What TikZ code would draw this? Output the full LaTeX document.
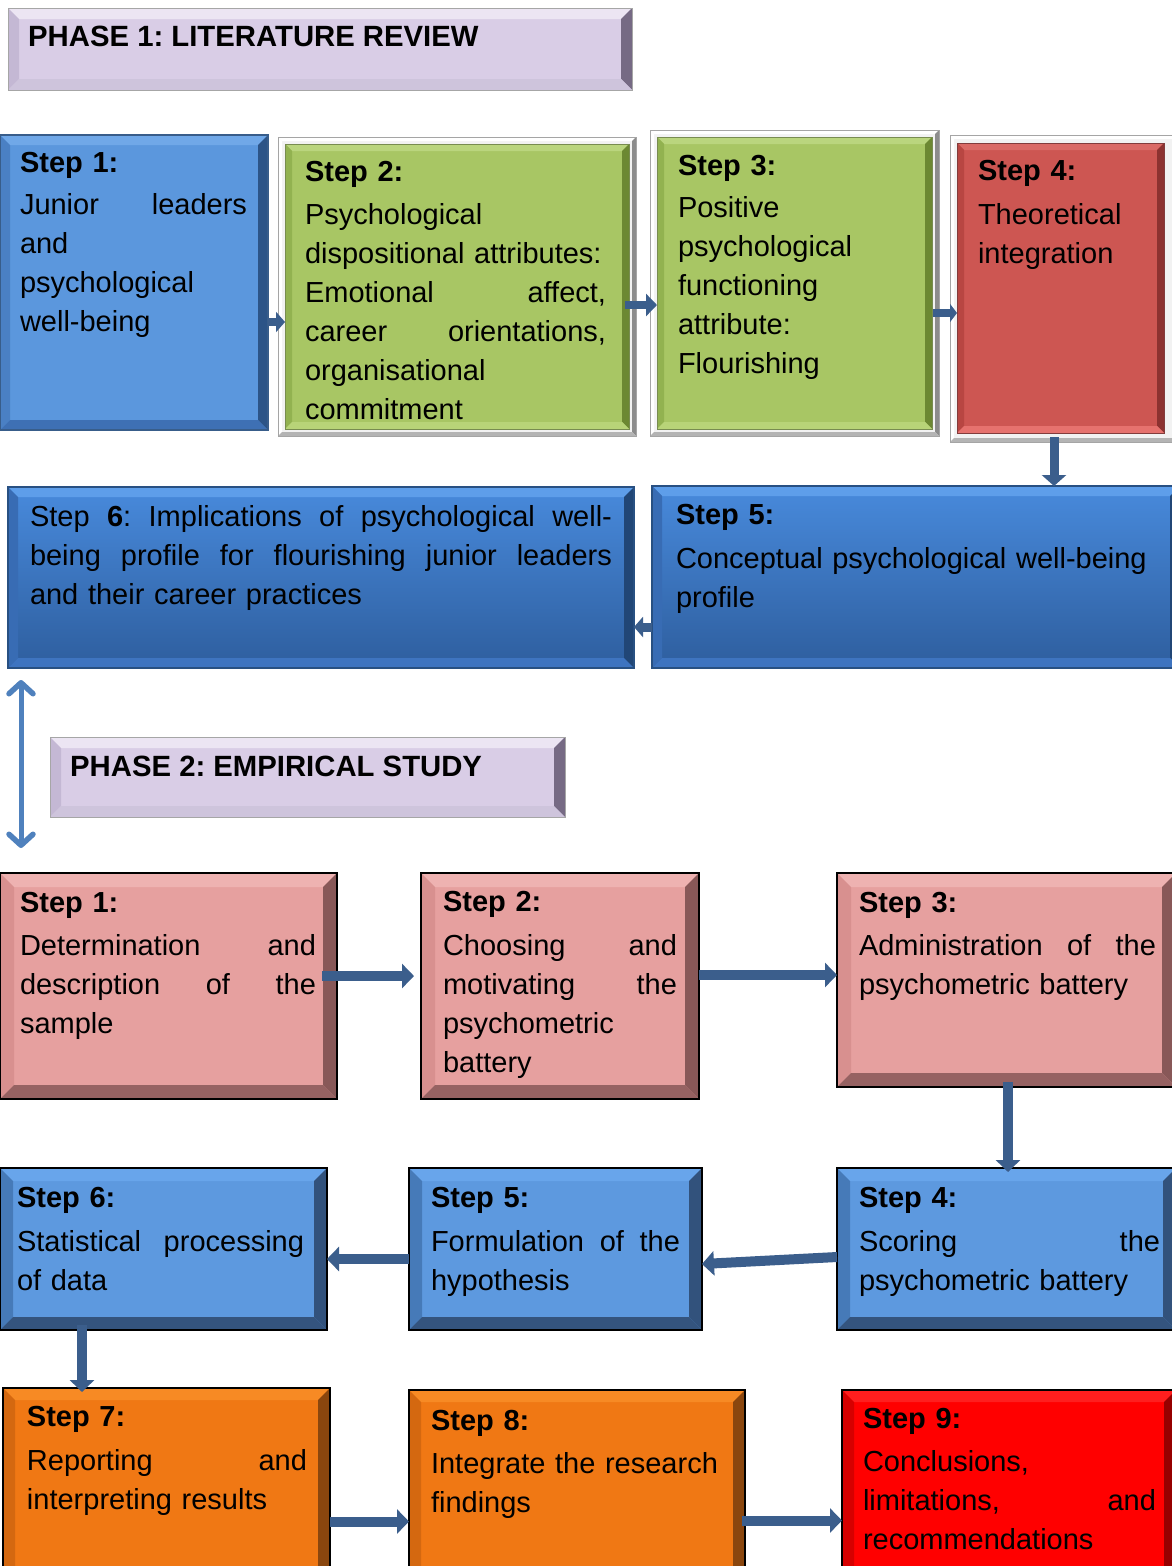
\documentclass[tikz,border=0pt]{standalone}
\usepackage{fontspec}
\setmainfont{Liberation Sans}
\usetikzlibrary{arrows.meta,calc}

% face / bevel colours
\definecolor{lavF}{RGB}{217,205,230}\definecolor{lavT}{RGB}{236,229,243}
\definecolor{lavL}{RGB}{196,184,212}\definecolor{lavR}{RGB}{118,106,132}
\definecolor{lavB}{RGB}{206,196,220}
\definecolor{buF}{RGB}{91,151,221}\definecolor{buT}{RGB}{112,168,232}
\definecolor{buL}{RGB}{74,128,196}\definecolor{buR}{RGB}{44,84,135}
\definecolor{buB}{RGB}{62,112,180}\definecolor{buO}{RGB}{56,93,138}
\definecolor{grF}{RGB}{168,198,100}\definecolor{grT}{RGB}{186,213,126}
\definecolor{grL}{RGB}{146,178,80}\definecolor{grR}{RGB}{108,136,50}
\definecolor{grB}{RGB}{184,212,120}\definecolor{grO}{RGB}{120,140,80}
\definecolor{svF}{RGB}{242,242,242}\definecolor{svR}{RGB}{140,140,140}
\definecolor{svB}{RGB}{180,180,180}\definecolor{svO}{RGB}{165,165,165}
\definecolor{rdF}{RGB}{205,86,82}\definecolor{rdT}{RGB}{218,106,102}
\definecolor{rdL}{RGB}{184,70,66}\definecolor{rdR}{RGB}{140,50,48}
\definecolor{rdB}{RGB}{230,114,110}\definecolor{rdO}{RGB}{130,60,60}
\definecolor{dbTop}{RGB}{72,138,220}\definecolor{dbBot}{RGB}{46,94,158}
\definecolor{dbT}{RGB}{94,158,234}\definecolor{dbL}{RGB}{56,108,180}
\definecolor{dbR}{RGB}{33,70,118}\definecolor{dbB}{RGB}{62,116,192}
\definecolor{dbO}{RGB}{40,80,130}
\definecolor{pkF}{RGB}{230,160,159}\definecolor{pkT}{RGB}{238,178,177}
\definecolor{pkL}{RGB}{216,144,143}\definecolor{pkR}{RGB}{136,88,88}
\definecolor{pkB}{RGB}{150,98,98}
\definecolor{lbF}{RGB}{93,153,223}\definecolor{lbT}{RGB}{104,165,235}
\definecolor{lbL}{RGB}{70,122,184}\definecolor{lbR}{RGB}{50,82,124}
\definecolor{lbB}{RGB}{52,84,126}
\definecolor{orF}{RGB}{240,120,20}\definecolor{orT}{RGB}{247,138,36}
\definecolor{orL}{RGB}{212,104,16}\definecolor{orR}{RGB}{138,70,14}
\definecolor{orB}{RGB}{136,68,16}
\definecolor{reF}{RGB}{255,0,0}\definecolor{reT}{RGB}{255,30,30}
\definecolor{reL}{RGB}{214,0,0}\definecolor{reR}{RGB}{150,0,0}
\definecolor{reB}{RGB}{140,10,10}
\definecolor{arrowc}{RGB}{59,94,140}
\definecolor{linkc}{RGB}{79,129,189}

\frenchspacing
\newcommand\bodyfont{\fontsize{29}{39}\selectfont}
\newcommand\hdfont{\fontsize{29.3}{35}\selectfont\bfseries}
% a line spread over the full text width of its node; \gap marks a stretchable space
\newcommand\tw{100pt}
\newcommand\jl[1]{\makebox[\tw][s]{#1}}
\newcommand\gap{\ \hfill}
% bevelled box: style, name, x1, y1, x2, y2 (y measured downwards)
\newcommand\bbox[6]{\node[#1,minimum width={#5pt-#3pt},minimum height={#6pt-#4pt}] (#2) at (#3,-#4) {};}

\tikzset{
  bv top/.store in=\bvT, bv left/.store in=\bvL, bv right/.store in=\bvR,
  bv bot/.store in=\bvB, bv w/.store in=\bvW,
  bevel/.style={rectangle, inner sep=0pt, outer sep=0pt, anchor=north west,
    path picture={
      \path (path picture bounding box.north west) coordinate (bNW)
            (path picture bounding box.north east) coordinate (bNE)
            (path picture bounding box.south west) coordinate (bSW)
            (path picture bounding box.south east) coordinate (bSE);
      \fill[fill=\bvT] (bNW) -- (bNE) -- ([shift={(-\bvW,-\bvW)}]bNE) -- ([shift={(\bvW,-\bvW)}]bNW) -- cycle;
      \fill[fill=\bvL] (bNW) -- ([shift={(\bvW,-\bvW)}]bNW) -- ([shift={(\bvW,\bvW)}]bSW) -- (bSW) -- cycle;
      \fill[fill=\bvR] (bNE) -- (bSE) -- ([shift={(-\bvW,\bvW)}]bSE) -- ([shift={(-\bvW,-\bvW)}]bNE) -- cycle;
      \fill[fill=\bvB] (bSW) -- ([shift={(\bvW,\bvW)}]bSW) -- ([shift={(-\bvW,\bvW)}]bSE) -- (bSE) -- cycle;
    }},
  phasebox/.style={bevel, fill=lavF, draw=gray!70, line width=1pt,
    bv top=lavT, bv left=lavL, bv right=lavR, bv bot=lavB, bv w=11},
  bluebox/.style={bevel, fill=buF, draw=buO, line width=1.2pt,
    bv top=buT, bv left=buL, bv right=buR, bv bot=buB, bv w=10},
  framebox/.style={bevel, fill=svF, draw=svO, line width=1pt,
    bv top=white, bv left=white, bv right=svR, bv bot=svB, bv w=4},
  greenbox/.style={bevel, fill=grF, draw=grO, line width=1pt,
    bv top=grT, bv left=grL, bv right=grR, bv bot=grB, bv w=7},
  redbox/.style={bevel, fill=rdF, draw=rdO, line width=1pt,
    bv top=rdT, bv left=rdL, bv right=rdR, bv bot=rdB, bv w=7},
  deepbox/.style={bevel, top color=dbTop, bottom color=dbBot, draw=dbO, line width=1.2pt,
    bv top=dbT, bv left=dbL, bv right=dbR, bv bot=dbB, bv w=10},
  pinkbox/.style={bevel, fill=pkF, draw=black, line width=2pt,
    bv top=pkT, bv left=pkL, bv right=pkR, bv bot=pkB, bv w=14},
  skybox/.style={bevel, fill=lbF, draw=black, line width=2pt,
    bv top=lbT, bv left=lbL, bv right=lbR, bv bot=lbB, bv w=13},
  orangebox/.style={bevel, fill=orF, draw=black, line width=2pt,
    bv top=orT, bv left=orL, bv right=orR, bv bot=orB, bv w=12},
  scarletbox/.style={bevel, fill=reF, draw=black, line width=2pt,
    bv top=reT, bv left=reL, bv right=reR, bv bot=reB, bv w=12},
  txt/.style={anchor=base west, inner sep=0pt, outer sep=0pt, align=left,
    text width=#1pt, font=\bodyfont\def\tw{#1pt}},
  hd/.style={anchor=base west, inner sep=0pt, font=\hdfont},
  fl/.style={draw=arrowc, line width=10pt, -{Triangle[width=24pt,length=12pt]}},
  flsmall/.style={draw=arrowc, line width=8pt, -{Triangle[width=20pt,length=9pt]}},
  twoway/.style={draw=linkc, line width=5pt,
    {Straight Barb[length=11pt,width=24pt,line width=5.5pt,round]}-{Straight Barb[length=11pt,width=24pt,line width=5.5pt,round]}}
}

\begin{document}
\begin{tikzpicture}[x=1pt,y=1pt]
\useasboundingbox (0,0) rectangle (1171,-1566);
\fill[white] (0,0) rectangle (1171,-1566);

% ---------- Phase 1 ----------
\bbox{phasebox}{ph1}{8}{8}{632}{90}
\node[hd] (ph1t) at (28,-46) {PHASE 1: LITERATURE REVIEW};

\bbox{bluebox}{p1s1}{0}{135}{268}{430}
\bbox{framebox}{p1s2f}{278}{137}{636}{436}
\bbox{greenbox}{p1s2}{285}{144}{629}{429}
\bbox{framebox}{p1s3f}{650}{130}{939}{436}
\bbox{greenbox}{p1s3}{657}{137}{932}{429}
\bbox{framebox}{p1s4f}{950}{135}{1178}{442}
\bbox{redbox}{p1s4}{957}{143}{1164}{433}
\bbox{deepbox}{p1s6}{8}{487}{634}{668}
\bbox{deepbox}{p1s5}{652}{486}{1180}{668}

\node[txt=227] (p1s1t) at (20,-172) {\textbf{Step 1:}\\[3pt]
  \jl{Junior\gap leaders}\\ and\\ psychological\\ well-being};
\node[txt=301] (p1s2t) at (305,-181) {\textbf{Step 2:}\\[4pt]
  Psychological\\ dispositional attributes:\\ \jl{Emotional\gap affect,}\\
  \jl{career\gap orientations,}\\ organisational\\ commitment};
\node[txt=240] (p1s3t) at (678,-175) {\textbf{Step 3:}\\[3pt]
  Positive\\ psychological\\ functioning\\ attribute:\\ Flourishing};
\node[txt=180] (p1s4t) at (978,-180) {\textbf{Step 4:}\\[5pt]
  Theoretical\\ integration};
\node[txt=582] (p1s6t) at (30,-526) {\jl{Step\gap \textbf{6}:\gap Implications\gap of\gap psychological\gap well-}\\
  \jl{being\gap profile\gap for\gap flourishing\gap junior\gap leaders}\\ and their career practices};
\node[txt=480] (p1s5t) at (676,-524) {\textbf{Step 5:}\\[5pt]
  Conceptual psychological well-being\\ profile};

% connectors, phase 1
\coordinate (c12) at ([yshift=-39.5pt]p1s1.east);
\draw[flsmall] (c12) -- (c12 -| p1s2.west);
\coordinate (c23) at ([xshift=-4pt,yshift=-18.5pt]p1s2.east);
\draw[flsmall,-{Triangle[width=22pt,length=11pt]}] (c23) -- (c23 -| p1s3.west);
\coordinate (c34) at ([xshift=1pt,yshift=-30pt]p1s3.east);
\draw[flsmall,-{Triangle[width=18pt,length=7pt]}] (c34) -- (c34 -| p1s4.west);
\coordinate (c45) at ([xshift=-6.5pt,yshift=-4pt]p1s4.south);
\draw[flsmall,line width=9pt,-{Triangle[width=24pt,length=11pt]}] (c45) -- (c45 |- p1s5.north);
\coordinate (c56) at ([yshift=-50pt]p1s5.west);
\draw[flsmall,line width=9pt,-{Triangle[width=20pt,length=9pt]}] (c56) -- (c56 -| p1s6.east);

% ---------- Phase 2 ----------
\bbox{phasebox}{ph2}{50}{737}{565}{817}
\node[hd] (ph2t) at (70,-776) {PHASE 2: EMPIRICAL STUDY};

\bbox{pinkbox}{p2s1}{0}{873}{337}{1099}
\bbox{pinkbox}{p2s2}{421}{873}{699}{1099}
\bbox{pinkbox}{p2s3}{837}{873}{1176}{1087}
\bbox{skybox}{p2s4}{837}{1168}{1176}{1330}
\bbox{skybox}{p2s5}{409}{1168}{702}{1330}
\bbox{skybox}{p2s6}{0}{1168}{327}{1330}
\bbox{orangebox}{p2s7}{3}{1388}{330}{1578}
\bbox{orangebox}{p2s8}{409}{1390}{745}{1578}
\bbox{scarletbox}{p2s9}{842}{1390}{1176}{1578}

% link between the phases
\draw[twoway] ($(p1s6.south west)+(13,-12)$) -- ($(p2s1.north west)+(21,25)$);

\node[txt=296] (p2s1t) at (20,-912) {\textbf{Step 1:}\\[4pt]
  \jl{Determination\gap and}\\ \jl{description\gap of\gap the}\\ sample};
\node[txt=234] (p2s2t) at (443,-911) {\textbf{Step 2:}\\[5pt]
  \jl{Choosing\gap and}\\ \jl{motivating\gap the}\\ psychometric\\ battery};
\node[txt=297] (p2s3t) at (859,-912) {\textbf{Step 3:}\\[4pt]
  \jl{Administration\gap of\gap the}\\ psychometric battery};
\node[txt=301] (p2s4t) at (859,-1207) {\textbf{Step 4:}\\[5pt]
  \jl{Scoring\gap the}\\ psychometric battery};
\node[txt=249] (p2s5t) at (431,-1207) {\textbf{Step 5:}\\[5pt]
  \jl{Formulation\gap of\gap the}\\ hypothesis};
\node[txt=287] (p2s6t) at (17,-1207) {\textbf{Step 6:}\\[5pt]
  \jl{Statistical\gap processing}\\ of data};
\node[txt=280] (p2s7t) at (27,-1426) {\textbf{Step 7:}\\[5pt]
  \jl{Reporting\gap and}\\ interpreting results};
\node[txt=300] (p2s8t) at (431,-1430) {\textbf{Step 8:}\\[4pt]
  Integrate the research\\ findings};
\node[txt=293] (p2s9t) at (863,-1428) {\textbf{Step 9:}\\[4pt]
  Conclusions,\\ \jl{limitations,\gap and}\\ recommendations};

% connectors, phase 2
\coordinate (d12) at ([xshift=-15pt,yshift=10pt]p2s1.east);
\draw[fl,shorten >=7pt] (d12) -- (d12 -| p2s2.west);
\coordinate (d23) at ([yshift=11pt]p2s2.east);
\draw[fl] (d23) -- (d23 -| p2s3.west);
\coordinate (d34) at ([xshift=1.5pt,yshift=5pt]p2s3.south);
\draw[fl,shorten >=-4pt] (d34) -- (d34 |- p2s4.north);
\draw[fl] ([yshift=-8pt]p2s4.west) -- ([yshift=-15pt]p2s5.east);
\coordinate (d56) at ([yshift=-10pt]p2s5.west);
\draw[fl] (d56) -- (d56 -| p2s6.east);
\coordinate (d67) at ([xshift=-81.5pt,yshift=5pt]p2s6.south);
\draw[fl,shorten >=-4pt] (d67) -- (d67 |- p2s7.north);
\coordinate (d78) at ([yshift=-38.5pt]p2s7.east);
\draw[fl] (d78) -- (d78 -| p2s8.west);
\coordinate (d89) at ([xshift=-3pt,yshift=-36.5pt]p2s8.east);
\draw[fl] (d89) -- (d89 -| p2s9.west);
\end{tikzpicture}
\end{document}
